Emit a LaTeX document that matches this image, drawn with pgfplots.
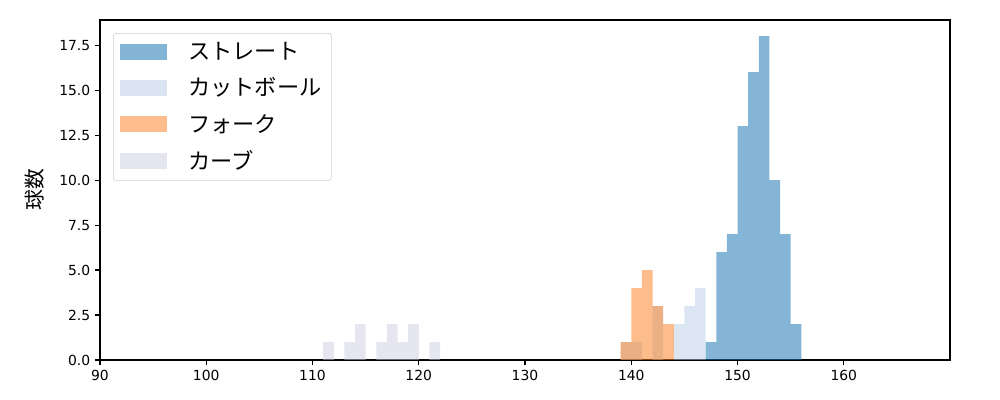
\documentclass[border=0pt]{standalone}
\usepackage{fontspec}
\setmainfont{DejaVu Sans}
\newfontfamily\jp{Noto Sans CJK JP}
\usepackage{pgfplots}
\pgfplotsset{compat=1.18}
\definecolor{cstraight}{HTML}{1F77B4}
\definecolor{ccut}{HTML}{B9CDE5}
\definecolor{cfork}{HTML}{FA7A18}
\definecolor{ccurve}{HTML}{CDCDE1}
\pgfplotsset{hbar/.style 2 args={draw=none, fill=#1, fill opacity=#2, const plot mark left}}
\begin{document}
\begin{tikzpicture}
% 1px = 0.72pt; axis box 850x340 px, page 1000x400 px
\path[use as bounding box] (-72pt,-28.8pt) rectangle (648pt,259.2pt);
\begin{axis}[scale only axis, width=612pt, height=244.8pt, at={(0,0)}, anchor=south west,
  xmin=90, xmax=170, ymin=0, ymax=18.9,
  axis line style={black, line width=0.8pt}, tick style={black, line width=0.8pt},
  tick align=outside, xtick pos=bottom, ytick pos=left, major tick length=3.5pt,
  xtick={90,100,...,160}, ytick={0,2.5,...,17.5},
  /pgf/number format/assume math mode=true,
  tick label style={font=\fontsize{10}{12}\selectfont},
  yticklabel style={/pgf/number format/.cd, fixed, fixed zerofill, precision=1},
  xticklabel style={/pgf/number format/.cd, fixed, precision=0},
  scaled y ticks=false,
  ylabel={\jp\fontsize{15}{18}\selectfont 球数}, ylabel style={yshift=4pt},
  legend cell align=left,
  legend image code/.code={\fill[#1, sharp corners] (0pt,-5.8pt) rectangle (34pt,5.8pt);},
  legend style={at={(0,1)}, anchor=north west, xshift=9.4pt, yshift=-9.4pt,
    draw=black!20, rounded corners=2pt, fill=white, inner xsep=5pt, inner ysep=4.5pt,
    row sep=7.6pt, column sep=13pt, font=\jp\fontsize{16}{19}\selectfont},
]
\addplot[hbar={cstraight}{0.55}] coordinates {(147,1) (148,6) (149,7) (150,13) (151,16) (152,18) (153,10) (154,7) (155,2) (156,2)} \closedcycle;
\addlegendentry{ストレート}
\addplot[hbar={ccut}{0.5}] coordinates {(139,1) (140,1) (141,0) (142,3) (143,0) (144,2) (145,3) (146,4) (147,4)} \closedcycle;
\addlegendentry{カットボール}
\addplot[hbar={cfork}{0.5}] coordinates {(139,1) (140,4) (141,5) (142,3) (143,2) (144,2)} \closedcycle;
\addlegendentry{フォーク}
\addplot[hbar={ccurve}{0.5}] coordinates {(111,1) (112,0) (113,1) (114,2) (115,0) (116,1) (117,2) (118,1) (119,2) (120,0) (121,1) (122,1)} \closedcycle;
\addlegendentry{カーブ}
\end{axis}
\end{tikzpicture}
\end{document}
